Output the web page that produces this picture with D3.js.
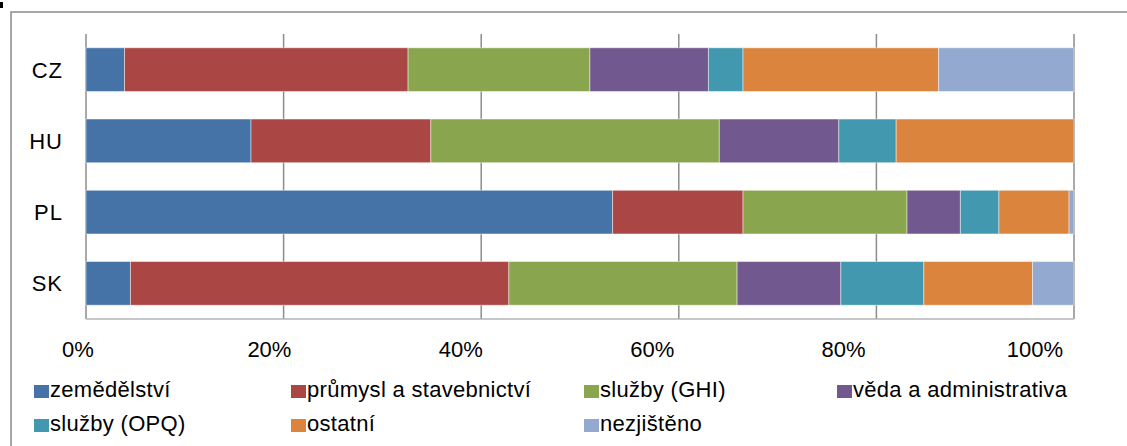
<!DOCTYPE html>
<html>
<head>
<meta charset="utf-8">
<script src="https://cdn.jsdelivr.net/npm/d3@7"></script>
<style>
  body { margin: 0; background: #fff; }
  text { font-family: 'Liberation Sans', Arial, sans-serif; fill: #000; }
</style>
</head>
<body>
<div id="chart"></div>
<script>
// data (percent shares)
var countries = ['CZ', 'HU', 'PL', 'SK'];
var sectors = ['zemědělství', 'průmysl a stavebnictví', 'služby (GHI)', 'věda a administrativa',
               'služby (OPQ)', 'ostatní', 'nezjištěno'];
var colors = ['#4572A7', '#AA4643', '#89A54E', '#71588F', '#4198AF', '#DB843D', '#93A9CF'];
var zemedelstvi = [3.9, 16.7, 53.3, 4.5];
var prumysl     = [28.7, 18.2, 13.2, 38.3];
var sluzbyGHI   = [18.4, 29.2, 16.6, 23.1];
var veda        = [12.0, 12.1, 5.4, 10.5];
var sluzbyOPQ   = [3.5, 5.8, 3.9, 8.4];
var ostatni     = [19.8, 18.0, 7.1, 11.0];
var nezjisteno  = [13.7, 0.0, 0.5, 4.2];
var tickValues = [0, 20, 40, 60, 80, 100];

var series = [zemedelstvi, prumysl, sluzbyGHI, veda, sluzbyOPQ, ostatni, nezjisteno];

var W = 1127, H = 446;
var margin = {top: 34, left: 86, right: 53, bottom: 127};
var width = W - margin.left - margin.right,
    height = H - margin.top - margin.bottom;

var svg = d3.select('#chart')
  .append('svg')
    .attr('width', W)
    .attr('height', H);

// chart frame (right/bottom edges run off the picture)
svg.append('rect')
  .attr('x', 11).attr('y', 12)
  .attr('width', W + 20).attr('height', H + 20)
  .attr('fill', 'none')
  .attr('stroke', '#8a8a8a')
  .attr('stroke-width', 1.5);

// cut-off glyph in the corner
svg.append('rect')
  .attr('x', 0).attr('y', 2).attr('width', 3).attr('height', 6)
  .attr('fill', '#000');

var g = svg.append('g')
  .attr('transform', 'translate(' + margin.left + ',' + margin.top + ')');

var x = d3.scaleLinear().domain([0, 100]).range([0, width]);
// labels sit on a slightly tighter spread than the gridlines
var xLabel = d3.scaleLinear().domain([0, 100]).range([78 - margin.left, 1035 - margin.left]);
var y = d3.scaleBand()
  .domain(countries)
  .range([0, height])
  .paddingInner(0.387)
  .paddingOuter(0.1935);

// gridlines
g.append('g')
  .selectAll('line')
  .data(tickValues)
  .enter()
  .append('line')
    .attr('x1', function(d) { return x(d); })
    .attr('x2', function(d) { return x(d); })
    .attr('y1', 0)
    .attr('y2', height)
    .attr('stroke', '#8c8c8c')
    .attr('stroke-width', 1.5);

// bottom axis line
g.append('line')
  .attr('x1', 0).attr('x2', x(100))
  .attr('y1', height).attr('y2', height)
  .attr('stroke', '#b5b5b5')
  .attr('stroke-width', 1.5);

// stacked bars
var stacked = countries.map(function(c, i) {
  var acc = 0;
  return series.map(function(s, k) {
    var seg = {country: c, k: k, x0: acc, x1: acc + s[i]};
    acc += s[i];
    return seg;
  });
});

g.selectAll('g.row')
  .data(stacked)
  .enter()
  .append('g')
  .selectAll('rect')
  .data(function(d) { return d.filter(function(s) { return s.x1 > s.x0; }); })
  .enter()
  .append('rect')
    .attr('x', function(d) { return x(d.x0); })
    .attr('y', function(d) { return y(d.country); })
    .attr('width', function(d) { return x(d.x1) - x(d.x0); })
    .attr('height', y.bandwidth())
    .attr('fill', function(d) { return colors[d.k]; })
    .attr('stroke', '#ffffff')
    .attr('stroke-opacity', 0.45)
    .attr('stroke-width', 1);

// category labels
g.selectAll('text.cat')
  .data(countries)
  .enter()
  .append('text')
    .attr('x', -23)
    .attr('y', function(d) { return y(d) + y.bandwidth() / 2; })
    .attr('dy', '0.36em')
    .attr('text-anchor', 'end')
    .style('font-size', '22px')
    .style('letter-spacing', '1px')
    .text(function(d) { return d; });

// tick labels
g.selectAll('text.tick')
  .data(tickValues)
  .enter()
  .append('text')
    .attr('x', function(d) { return xLabel(d); })
    .attr('y', 357 - margin.top)
    .attr('text-anchor', 'middle')
    .style('font-size', '22px')
    .text(function(d) { return d + '%'; });

// legend
var legendX = [34, 291, 584, 837];
var legendY = [397, 431];
var legend = svg.selectAll('g.legend')
  .data(sectors)
  .enter()
  .append('g')
    .attr('transform', function(d, i) {
      return 'translate(' + legendX[i % 4] + ',' + legendY[Math.floor(i / 4)] + ')';
    });
legend.append('rect')
  .attr('x', 0).attr('y', -12)
  .attr('width', 15).attr('height', 13)
  .attr('fill', function(d, i) { return colors[i]; });
legend.append('text')
  .attr('x', 16)
  .attr('y', 0)
  .style('font-size', '22px')
  .style('letter-spacing', '0.3px')
  .text(function(d) { return d; });
</script>
</body>
</html>
